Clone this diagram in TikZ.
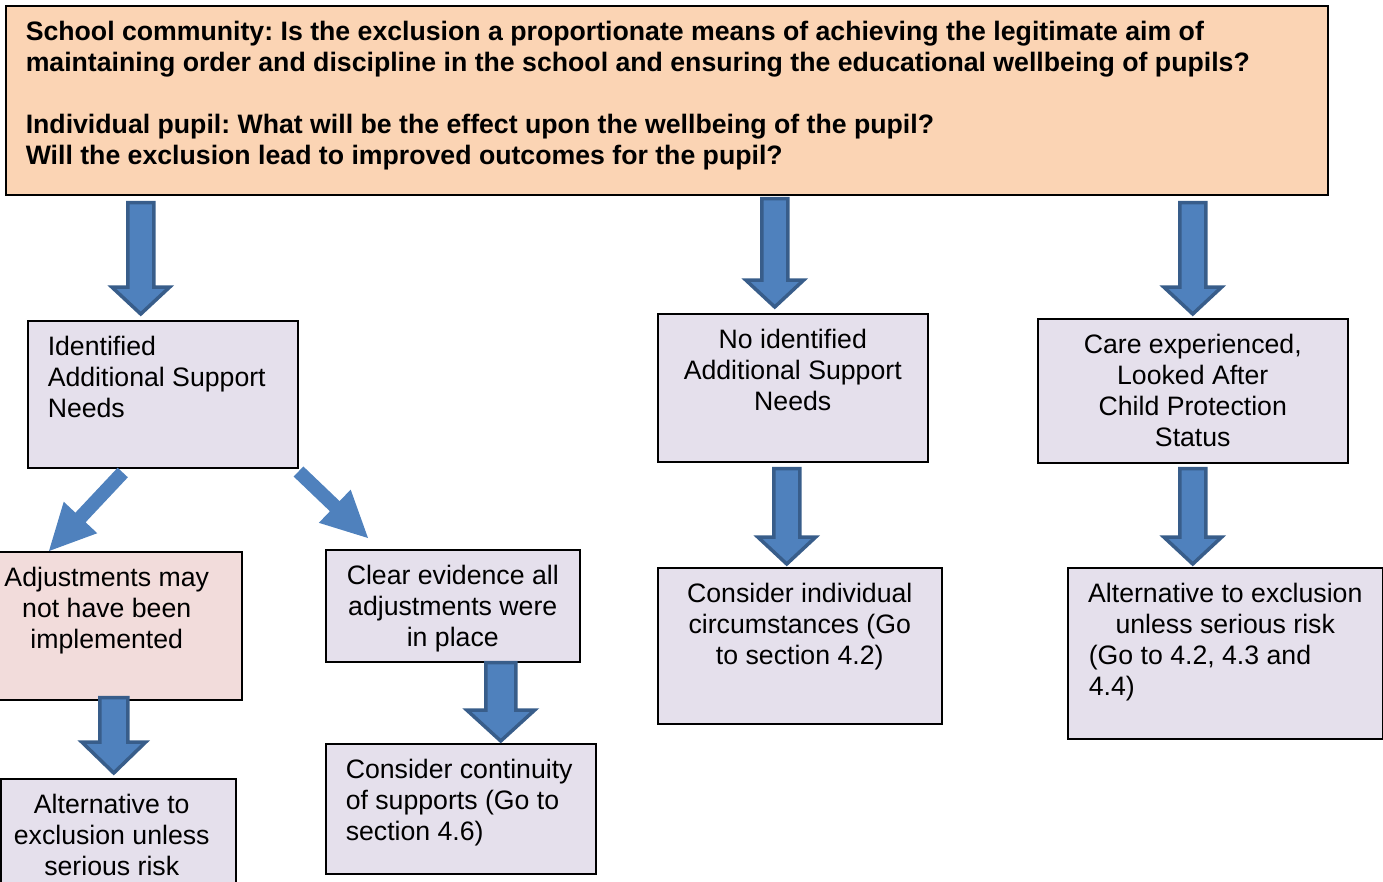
\documentclass[tikz,border=0pt]{standalone}
\usepackage{fontspec}
\setmainfont{Liberation Sans}
\usepackage{tikz}
\usetikzlibrary{calc,positioning}
\frenchspacing

\definecolor{peach}{HTML}{FBD4B4}
\definecolor{lav}{HTML}{E5E0EC}
\definecolor{rose}{HTML}{F2DCDB}
\definecolor{arrfill}{HTML}{4F81BD}
\definecolor{arredge}{HTML}{385D8A}

\newcommand{\celltext}[4]{\parbox[t][#2pt][t]{#1pt}{#3\vspace*{\dimexpr35pt-\ht\strutbox\relax}\strut #4}}

\newcommand{\fatarrow}[6][]{%
  \coordinate (fa-s) at #2;
  \coordinate (fa-t) at #3;
  \coordinate (fa-h) at ($(fa-t)!#6pt!(fa-s)$);
  \path[#1] ($(fa-s)!#4pt!-90:(fa-t)$) -- ($(fa-h)!#4pt!90:(fa-s)$) -- ($(fa-h)!#5pt!90:(fa-s)$) -- (fa-t)
    -- ($(fa-h)!#5pt!-90:(fa-s)$) -- ($(fa-h)!#4pt!-90:(fa-s)$) -- ($(fa-s)!#4pt!90:(fa-t)$) -- cycle;
}

\begin{document}
\begin{tikzpicture}[x=1pt,y=-1pt,
  cell/.style={draw=black, line width=1.5pt, fill=lav, anchor=north west, inner xsep=20pt, inner ysep=0pt,
    font=\fontsize{26.67}{31}\selectfont},
  mid/.style={cell, inner xsep=0pt},
  vblock/.style={fill=arrfill, draw=arredge, line width=3.5pt, line join=miter},
  dblock/.style={fill=arrfill}]
  \useasboundingbox (0,0) rectangle (1383,881);

  \node[cell, fill=peach, font=\fontsize{26.67}{31}\selectfont\bfseries] (top) at (5,5)
    {\celltext{1282}{189}{\raggedright}{School community: Is the exclusion a proportionate means of achieving the legitimate aim of\\maintaining order and discipline in the school and ensuring the educational wellbeing of pupils?\\[31pt]Individual pupil: What will be the effect upon the wellbeing of the pupil?\\Will the exclusion lead to improved outcomes for the pupil?}};

  \node[cell] (asn) at (27,320) {\celltext{230}{147}{\raggedright}{Identified\\Additional Support\\Needs}};
  \node[mid, fill=rose] (adj) at (-3,551) {\celltext{244}{148}{\centering\rightskip=26pt plus 1fil}{Adjustments may\\not have been\\implemented}};
  \node[mid] (altL) at (0,778) {\celltext{235}{130}{\centering\rightskip=13pt plus 1fil}{Alternative to\\exclusion unless\\serious risk}};
  \node[mid] (clear) at (325,549) {\celltext{254}{112}{\centering}{Clear evidence all\\adjustments were\\in place}};
  \node[cell] (cont) at (325,743) {\celltext{230}{130}{\raggedright}{Consider continuity\\of supports (Go to\\section 4.6)}};
  \node[mid] (noasn) at (657,313) {\celltext{270}{148}{\centering}{No identified\\Additional Support\\Needs}};
  \node[mid] (indiv) at (657,567) {\celltext{284}{156}{\centering}{Consider individual\\circumstances (Go\\to section 4.2)}};
  \node[mid] (care) at (1037,318) {\celltext{310}{144}{\centering}{Care experienced,\\Looked After\\Child Protection\\Status}};
  \node[mid] (altR) at (1067,567) {\celltext{315}{171}{}{{\centering Alternative to exclusion\\unless serious risk\par}\leftskip=21pt\rightskip=0pt plus 1fil (Go to 4.2, 4.3 and\\4.4)}};

  \fatarrow[vblock]{($(top.south -| asn.north)+(-22,7)$)}{($(asn.north)+(-22,-6)$)}{13}{29}{27}
  \fatarrow[vblock]{($(top.south -| noasn.north)+(-18,3)$)}{($(noasn.north)+(-18,-6)$)}{13}{29}{27}
  \fatarrow[vblock]{($(top.south -| care.north)+(0,7)$)}{($(care.north)+(0,-4)$)}{13}{29}{27}
  \fatarrow[vblock]{($(noasn.south)+(-6,6)$)}{($(indiv.north)+(-13,-3)$)}{13}{29}{27}
  \fatarrow[vblock]{($(care.south)+(0,5)$)}{($(care.south |- altR.north)+(0,-3)$)}{13}{29}{27}
  \fatarrow[vblock]{($(clear.south)+(48,0)$)}{($(cont.north)+(40,-2)$)}{15}{34}{31}
  \fatarrow[vblock]{($(adj.south)+(-6,-3)$)}{($(altL.north)+(-4.5,-5)$)}{14}{32}{31}
  \fatarrow[dblock]{($(asn.south)+(-40,4)$)}{($(adj.north west)+(52,0)$)}{7}{23}{46}
  \fatarrow[dblock]{($(asn.south east)+(0,3)$)}{($(clear.north west)+(43,-11)$)}{7}{23}{46}
\end{tikzpicture}
\end{document}
